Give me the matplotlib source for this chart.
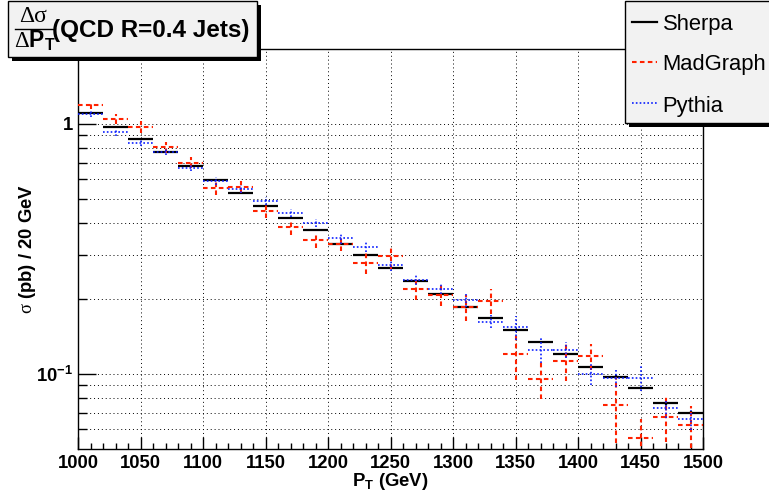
import numpy as np
import matplotlib
matplotlib.use("Agg")
import matplotlib.pyplot as plt
from matplotlib.patches import Rectangle
from matplotlib.lines import Line2D
from matplotlib.ticker import NullFormatter

# 20 GeV bins from 1000 to 1500 GeV
pt_edges = np.arange(1000, 1501, 20)
pt_centers = pt_edges[:-1] + 10

sherpa = [1.103, 0.973, 0.866, 0.769, 0.680, 0.598, 0.530, 0.470, 0.420, 0.377,
          0.330, 0.298, 0.265, 0.236, 0.209, 0.186, 0.167, 0.150, 0.134, 0.120,
          0.107, 0.0977, 0.0881, 0.0765, 0.0699]
sherpa_err = [0.005, 0.004, 0.004, 0.003, 0.003, 0.003, 0.002, 0.002, 0.002, 0.002,
              0.002, 0.002, 0.001, 0.001, 0.001, 0.001, 0.001, 0.001, 0.001, 0.001,
              0.001, 0.001, 0.001, 0.001, 0.001]

madgraph = [1.184, 1.05, 0.973, 0.807, 0.699, 0.552, 0.560, 0.449, 0.387, 0.343,
            0.332, 0.279, 0.295, 0.218, 0.207, 0.185, 0.196, 0.120, 0.0953, 0.113,
            0.118, 0.0752, 0.0553, 0.0676, 0.0626]
madgraph_err = [0.042, 0.049, 0.053, 0.040, 0.035, 0.033, 0.031, 0.027, 0.027, 0.024,
                0.022, 0.027, 0.031, 0.021, 0.020, 0.022, 0.023, 0.025, 0.016, 0.019,
                0.014, 0.022, 0.011, 0.014, 0.012]

pythia = [1.093, 0.924, 0.838, 0.770, 0.667, 0.591, 0.549, 0.493, 0.440, 0.403,
          0.348, 0.323, 0.272, 0.237, 0.218, 0.197, 0.162, 0.154, 0.125, 0.125,
          0.100, 0.0965, 0.0965, 0.0731, 0.0659]
pythia_err = [0.031, 0.026, 0.023, 0.022, 0.019, 0.022, 0.020, 0.018, 0.016, 0.015,
              0.016, 0.015, 0.013, 0.011, 0.010, 0.011, 0.010, 0.017, 0.014, 0.009,
              0.010, 0.008, 0.011, 0.0067, 0.006]

plt.rcParams["font.family"] = ["Liberation Sans", "DejaVu Sans"]
plt.rcParams["mathtext.fontset"] = "custom"
plt.rcParams["mathtext.rm"] = "Liberation Serif"
plt.rcParams["mathtext.bf"] = "Liberation Sans:bold"

W, H = 769, 497
fig = plt.figure(figsize=(W / 100, H / 100), dpi=100)


def fx(x):
    return x / W


def fy(y):
    return 1 - y / H


ax = fig.add_axes([fx(78.3), fy(449.3), (703 - 78.3) / W, (449.3 - 48.5) / H])
ax.set_yscale("log")
ax.set_xlim(1000, 1500)
ax.set_ylim(0.05, 2.0)

dotted = (0, (1, 3))
ax.set_xticks(np.arange(1000, 1501, 50))
ax.set_xticks(np.arange(1000, 1501, 10), minor=True)
ax.set_yticks([0.1, 1], labels=[r"$\mathbf{10^{-1}}$", "1"])
ax.set_yticks([0.06, 0.07, 0.08, 0.09, 0.2, 0.3, 0.4, 0.5, 0.6, 0.7, 0.8, 0.9], minor=True)
ax.yaxis.set_minor_formatter(NullFormatter())
ax.grid(True, which="major", axis="x", color="black", lw=0.7, linestyle=dotted)
ax.grid(True, which="both", axis="y", color="black", lw=0.7, linestyle=dotted)
ax.set_axisbelow(True)

ax.tick_params(axis="x", which="major", direction="in", length=9, width=1, labelsize=13.3, pad=4)
ax.tick_params(axis="x", which="minor", direction="in", length=4.5, width=1)
ax.tick_params(axis="y", which="major", direction="in", length=13, width=1, labelsize=13.3, pad=4)
ax.tick_params(axis="y", which="minor", direction="in", length=6.5, width=1)
for lbl in ax.get_xticklabels() + ax.get_yticklabels():
    lbl.set_fontweight("bold")
for sp in ax.spines.values():
    sp.set_linewidth(1)

ax.set_xlabel(r"$\mathbf{P_T}$ (GeV)", fontsize=13.3, fontweight="bold", va="center")
ax.xaxis.set_label_coords(0.5, (449.3 - 481) / 400.8)
ax.set_ylabel(r"$\mathrm{\sigma}$ (pb) / 20 GeV", fontsize=13.3, fontweight="bold", va="center")
ax.yaxis.set_label_coords((28 - 78.3) / 624.7, 0.5)


def draw(vals, errs, color, lw, ls, z):
    eb = ax.errorbar(pt_centers, vals, xerr=10, yerr=errs, fmt="none",
                     ecolor=color, elinewidth=lw, capsize=0, zorder=z)
    for c in eb.lines[2]:
        c.set_linestyle(ls)
        c.set_capstyle("butt")


draw(sherpa, sherpa_err, "black", 1.6, "-", 3)
draw(madgraph, madgraph_err, "#ff2200", 1.5, (0, (2.2, 1.6)), 4)
draw(pythia, pythia_err, "#0a1eff", 1.2, (0, (1, 1.3)), 5)

# title box with shadow
fig.add_artist(Rectangle((fx(12), fy(61)), (257 - 8) / W, (57 - 1) / H,
                         transform=fig.transFigure, facecolor="black", edgecolor="none", zorder=5))
fig.add_artist(Rectangle((fx(8), fy(57)), (257 - 8) / W, (57 - 1) / H,
                         transform=fig.transFigure, facecolor="#f2f2f2", edgecolor="black", lw=1, zorder=6))
fig.text(fx(33.5), fy(22), "Δσ", family="Liberation Serif", fontsize=17, ha="center", va="baseline", zorder=7)
fig.add_artist(Line2D([fx(15), fx(53)], [fy(29.3), fy(29.3)], transform=fig.transFigure,
                      color="black", lw=1, zorder=7))
fig.text(fx(14), fy(47), r"$\Delta\mathbf{P}_{\mathbf{T}}$", fontsize=16.5, ha="left", va="baseline", zorder=7)
fig.text(fx(52), fy(37.3), "(QCD R=0.4 Jets)", fontsize=17.5, fontweight="bold",
         ha="left", va="baseline", zorder=7)

# legend box with shadow
fig.add_artist(Rectangle((fx(629), fy(127)), (772 - 625) / W, (123 - 1) / H,
                         transform=fig.transFigure, facecolor="black", edgecolor="none", zorder=5))
fig.add_artist(Rectangle((fx(625), fy(123)), (772 - 625) / W, (123 - 1) / H,
                         transform=fig.transFigure, facecolor="#f2f2f2", edgecolor="black", lw=1, zorder=6))
entries = [("Sherpa", "black", 1.6, "-", 21.7, 30),
           ("MadGraph", "#ff2200", 1.5, (0, (2.2, 1.6)), 61.7, 70),
           ("Pythia", "#0a1eff", 1.2, (0, (1, 1.3)), 103, 111.7)]
for name, color, lw, ls, yl, yb in entries:
    fig.add_artist(Line2D([fx(632), fx(657)], [fy(yl), fy(yl)], transform=fig.transFigure,
                          color=color, lw=lw, linestyle=ls, zorder=7))
    fig.text(fx(662.7), fy(yb), name, fontsize=15.8, ha="left", va="baseline", zorder=7)

fig.savefig("out.png", dpi=100)
